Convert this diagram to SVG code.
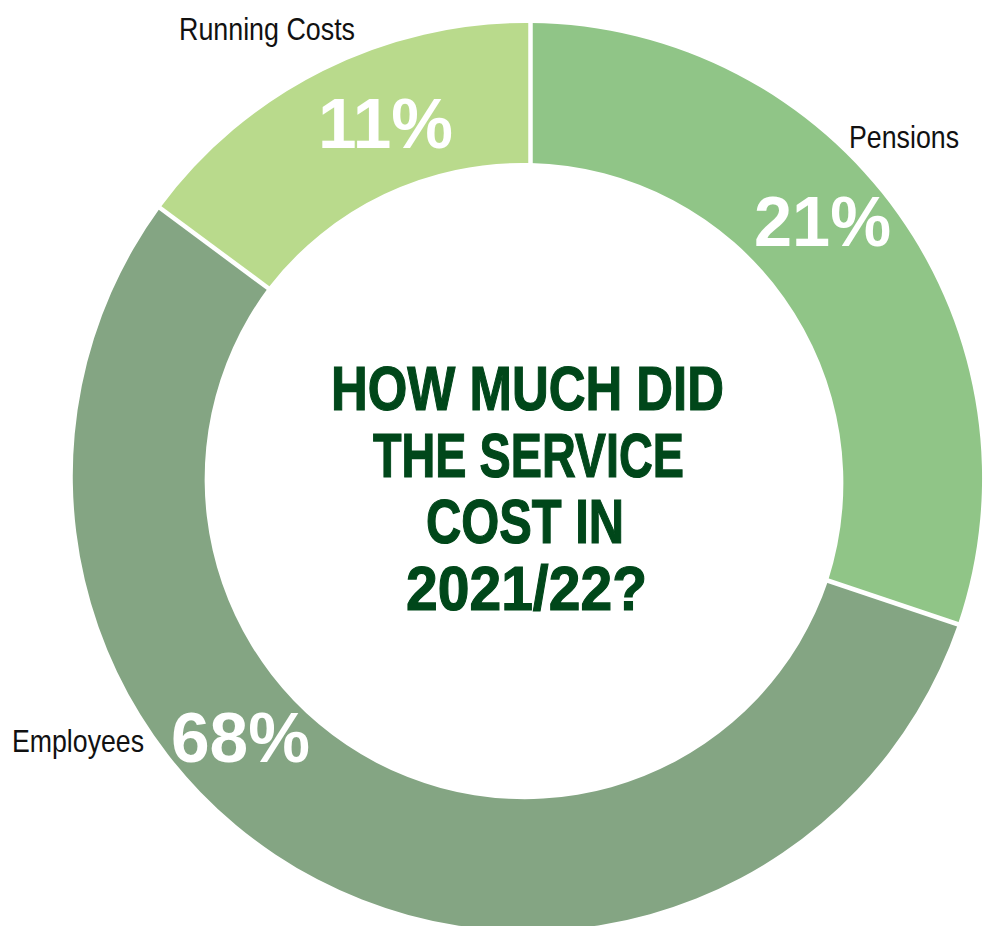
<svg xmlns="http://www.w3.org/2000/svg" width="985" height="926" viewBox="0 0 985 926">
  <style>
    .label { font-family: "Liberation Sans", Arial, sans-serif; font-size: 32px; fill: #111111; }
    .pct { font-family: "Liberation Sans", Arial, sans-serif; font-size: 70px; font-weight: bold; fill: #ffffff; }
    .title { font-family: "Liberation Sans", Arial, sans-serif; font-size: 63px; font-weight: bold; fill: #00471a; stroke: #00471a; stroke-width: 1.2; text-anchor: middle; }
    .sep { stroke: #ffffff; stroke-width: 4.5; fill: none; }
  </style>
  <rect x="0" y="0" width="985" height="926" fill="#ffffff"/>
  <g id="running-costs">
    <path d="M 160 208 A 455 455 0 0 1 530.5 23 L 530.5 163.1 A 320 320 0 0 0 268 288 Z" fill="#b9da8c"/>
    <text class="label" x="179" y="40" textLength="176" lengthAdjust="spacingAndGlyphs">Running Costs</text>
    <text class="pct" x="318" y="148" textLength="135" lengthAdjust="spacingAndGlyphs">11%</text>
  </g>
  <g id="pensions">
    <path d="M 530.5 23 A 455 455 0 0 1 958 624 L 828 581 A 320 320 0 0 0 530.5 163.1 Z" fill="#90c587"/>
    <text class="label" x="849" y="148" textLength="110" lengthAdjust="spacingAndGlyphs">Pensions</text>
    <text class="pct" x="754" y="246" textLength="137" lengthAdjust="spacingAndGlyphs">21%</text>
  </g>
  <g id="employees">
    <path d="M 958 624 A 455 455 0 1 1 160 208 L 268 288 A 320 320 0 1 0 828 581 Z" fill="#84a583"/>
    <text class="label" x="12" y="752" textLength="132" lengthAdjust="spacingAndGlyphs">Employees</text>
    <text class="pct" x="171" y="762" textLength="139" lengthAdjust="spacingAndGlyphs">68%</text>
  </g>
  <g id="separators">
    <line class="sep" x1="530.5" y1="15" x2="530.5" y2="168"/>
    <line class="sep" x1="152" y1="202" x2="272" y2="291"/>
    <line class="sep" x1="823" y1="579" x2="966" y2="627"/>
  </g>
  <g id="title">
    <text class="title" x="527.5" y="410" textLength="393" lengthAdjust="spacingAndGlyphs">HOW MUCH DID</text>
    <text class="title" x="528.5" y="477" textLength="311" lengthAdjust="spacingAndGlyphs">THE SERVICE</text>
    <text class="title" x="525" y="543" textLength="198" lengthAdjust="spacingAndGlyphs">COST IN</text>
    <text class="title" x="526.5" y="610" textLength="241" lengthAdjust="spacingAndGlyphs">2021/22?</text>
  </g>
</svg>
